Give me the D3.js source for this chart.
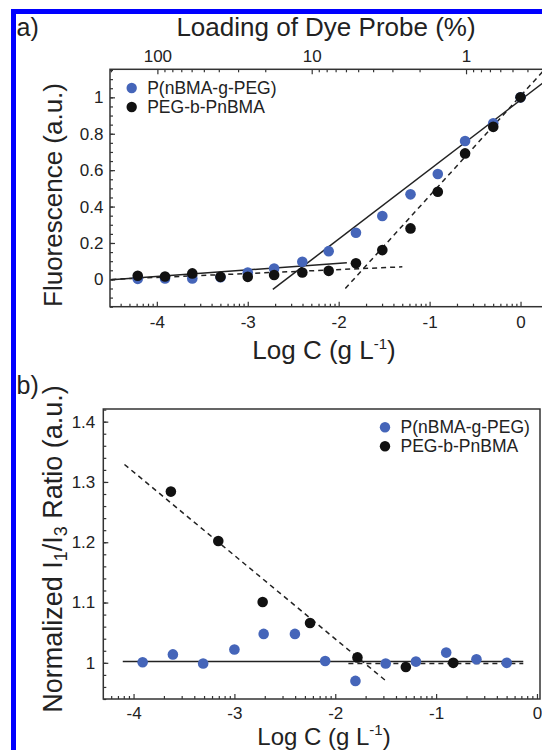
<!DOCTYPE html>
<html>
<head>
<meta charset="utf-8">
<script src="https://cdn.jsdelivr.net/npm/d3@7.9.0/dist/d3.min.js"></script>
<style>
  body { margin: 0; background: #fff; }
  svg { display: block; font-family: "Liberation Sans", Arial, Helvetica, sans-serif; }
</style>
</head>
<body>
<svg id="chart" width="542" height="750"></svg>
<script>
// Panel a: fluorescence of the dye probe vs log concentration
const logCA = [0, -0.30, -0.61, -0.91, -1.21, -1.52, -1.81, -2.11, -2.40, -2.71, -3.00, -3.30, -3.61, -3.91, -4.21];
const fluorGraft = [1.0, 0.857, 0.76, 0.579, 0.467, 0.348, 0.256, 0.155, 0.097, 0.060, 0.038, 0.012, 0.005, 0.005, 0.003];
const fluorBlock = [1.0, 0.838, 0.692, 0.481, 0.28, 0.161, 0.088, 0.047, 0.038, 0.024, 0.014, 0.014, 0.033, 0.016, 0.020];

// Panel b: normalized I1/I3 ratio vs log concentration
const logCGraftB = [-3.91, -3.61, -3.31, -3.00, -2.71, -2.40, -2.10, -1.80, -1.50, -1.20, -0.90, -0.60, -0.30];
const ratioGraft = [1.001, 1.014, 0.999, 1.022, 1.048, 1.048, 1.003, 0.970, 0.999, 1.002, 1.017, 1.006, 1.000];
const logCBlockB = [-3.63, -3.16, -2.72, -2.25, -1.78, -1.30, -0.83];
const ratioBlock = [1.284, 1.202, 1.101, 1.066, 1.009, 0.993, 1.000];

// Fitted lines, as end points (solid = graft, dashed = block)
const fitsA = [
  { x: [-4.5, -1.91], y: [-0.002, 0.091], dashed: false },
  { x: [-4.5, -1.30], y: [0.0, 0.069], dashed: true },
  { x: [-2.724, 0.5], y: [-0.055, 1.176], dashed: false },
  { x: [-1.927, 0.5], y: [-0.05, 1.282], dashed: true },
];
const fitsB = [
  { x: [-4.107, -0.136], y: [1.002, 1.002], dashed: false },
  { x: [-1.87, -0.136], y: [0.999, 0.999], dashed: true },
  { x: [-4.09, -1.497], y: [1.329, 0.970], dashed: true },
];

const seriesNames = ["P(nBMA-g-PEG)", "PEG-b-PnBMA"];
const seriesColors = ["#4565b9", "#111111"];

const xTicks = [-4, -3, -2, -1, 0];
const yTicksA = [0, 0.2, 0.4, 0.6, 0.8, 1];
const yTicksB = [1, 1.1, 1.2, 1.3, 1.4];
const loadingTicks = [100, 10, 1];

const svg = d3.select("#chart");
const ink = "#222";

// blue border of the figure
svg.append("rect")
  .attr("x", 13.5).attr("y", 11.5)
  .attr("width", 600).attr("height", 800)
  .attr("fill", "none").attr("stroke", "#0000ff").attr("stroke-width", 5);

// minor log ticks: positions log10(k*10^n) from a log scale
function logMinor(domain) {
  const s = d3.scaleLog().domain(domain.map((v) => Math.pow(10, v)));
  return s.ticks().map(Math.log10).filter((v) => Math.abs(v - Math.round(v)) > 1e-6);
}

function styleAxis(g) {
  g.select(".domain").remove();
  g.attr("font-size", 17).attr("font-family", null);
  g.selectAll("line").attr("stroke", "#333").attr("stroke-width", 1.2);
  g.selectAll("text").attr("fill", ink);
}

function drawPanel(p) {
  const { box, x, y } = p;
  const g = svg.append("g");

  const clipId = "clip-" + p.name;
  g.append("clipPath").attr("id", clipId)
    .append("rect")
    .attr("x", box.left).attr("y", box.top)
    .attr("width", box.right - box.left).attr("height", box.bottom - box.top);

  // bottom axis
  g.append("g").attr("transform", `translate(0,${box.bottom})`)
    .call(d3.axisBottom(x).tickValues(logMinor(x.domain())).tickSize(-3).tickFormat(""))
    .call(styleAxis);
  g.append("g").attr("transform", `translate(0,${box.bottom})`)
    .call(d3.axisBottom(x).tickValues(xTicks).tickSize(-5).tickPadding(p.xPad).tickFormat((d) => String(d)))
    .call(styleAxis);

  // left axis
  g.append("g").attr("transform", `translate(${box.left},0)`)
    .call(d3.axisLeft(y).tickValues(p.yMinor).tickSize(-3).tickFormat(""))
    .call(styleAxis);
  g.append("g").attr("transform", `translate(${box.left},0)`)
    .call(d3.axisLeft(y).tickValues(p.yTicks).tickSize(-5).tickPadding(p.yPad).tickFormat(d3.format("~g")))
    .call(styleAxis);

  // frame
  g.append("rect")
    .attr("x", box.left).attr("y", box.top)
    .attr("width", box.right - box.left).attr("height", box.bottom - box.top)
    .attr("fill", "none").attr("stroke", "#333").attr("stroke-width", 1.5);

  // fit lines
  const line = d3.line().x((d) => x(d[0])).y((d) => y(d[1]));
  g.append("g").attr("clip-path", `url(#${clipId})`)
    .selectAll("path")
    .data(p.fits)
    .join("path")
    .attr("d", (f) => line(f.x.map((v, i) => [v, f.y[i]])))
    .attr("fill", "none")
    .attr("stroke", ink)
    .attr("stroke-width", 1.5)
    .attr("stroke-dasharray", (f) => (f.dashed ? "5,4" : null));

  // points: graft (blue) first, block (black) on top
  p.series.forEach((s, i) => {
    g.append("g")
      .selectAll("circle")
      .data(s.x.map((v, j) => [v, s.y[j]]))
      .join("circle")
      .attr("cx", (d) => x(d[0]))
      .attr("cy", (d) => y(d[1]))
      .attr("r", 5.3)
      .attr("fill", seriesColors[i]);
  });

  // legend
  const leg = g.append("g").attr("transform", `translate(${p.legend[0]},${p.legend[1]})`);
  seriesNames.forEach((name, i) => {
    leg.append("circle").attr("cx", 0).attr("cy", i * 19).attr("r", 5.2).attr("fill", seriesColors[i]);
    leg.append("text").attr("x", 15.5).attr("y", i * 19).attr("dy", "0.35em")
      .attr("font-size", 17.5).attr("fill", ink).text(name);
  });

  // x title with superscript
  const xt = g.append("text")
    .attr("x", 324).attr("y", p.xTitleY)
    .attr("text-anchor", "middle").attr("font-size", p.xTitleSize).attr("fill", ink);
  xt.append("tspan").text("Log C (g L");
  xt.append("tspan").attr("font-size", 15).attr("dy", -10).text("-1");
  xt.append("tspan").attr("dy", 10).text(")");

  // panel letter
  g.append("text").attr("x", 16.5).attr("y", p.letterY)
    .attr("font-size", 25).attr("fill", ink).text(p.name + ")");

  return g;
}

// ---- panel a ----
const boxA = { left: 110, right: 566, top: 69.3, bottom: 306.7 };
const xA = d3.scaleLinear().domain([-4.515, 0.5]).range([boxA.left, boxA.right]);
const yA = d3.scaleLinear().domain([-0.15, 1.154]).range([boxA.bottom, boxA.top]);

const gA = drawPanel({
  name: "a", box: boxA, x: xA, y: yA,
  yTicks: yTicksA, yMinor: d3.range(-15, 116, 5).map((d) => d / 100),
  xPad: 9.5, yPad: 6.5,
  fits: fitsA,
  series: [{ x: logCA, y: fluorGraft }, { x: logCA, y: fluorBlock }],
  legend: [131.7, 88], xTitleY: 359, xTitleSize: 26, letterY: 36,
});

// top axis: loading of dye probe (log, decreasing to the right)
const loadScale = d3.scaleLog().domain([202.8, 0.225]).range([boxA.left, boxA.right]);
const loadMinor = loadScale.ticks().filter((v) => Math.abs(Math.log10(v) - Math.round(Math.log10(v))) > 1e-6);
gA.append("g").attr("transform", `translate(0,${boxA.top})`)
  .call(d3.axisTop(loadScale).tickValues(loadMinor).tickSize(-3).tickFormat(""))
  .call(styleAxis);
gA.append("g").attr("transform", `translate(0,${boxA.top})`)
  .call(d3.axisTop(loadScale).tickValues(loadingTicks).tickSize(-5).tickPadding(7.6).tickFormat((d) => String(d)))
  .call(styleAxis);

gA.append("text").attr("x", 326).attr("y", 36)
  .attr("text-anchor", "middle").attr("font-size", 26).attr("fill", ink)
  .text("Loading of Dye Probe (%)");

gA.append("text")
  .attr("transform", "translate(62,195) rotate(-90)")
  .attr("text-anchor", "middle").attr("font-size", 26).attr("fill", ink)
  .text("Fluorescence (a.u.)");

// ---- panel b ----
const boxB = { left: 103.3, right: 540, top: 409, bottom: 699 };
const xB = d3.scaleLinear().domain([-4.3, 0.03]).range([boxB.left, boxB.right]);
const yB = d3.scaleLinear().domain([0.94, 1.421]).range([boxB.bottom, boxB.top]);

const gB = drawPanel({
  name: "b", box: boxB, x: xB, y: yB,
  yTicks: yTicksB, yMinor: d3.range(94, 143, 2).map((d) => d / 100),
  xPad: 7.5, yPad: 8,
  fits: fitsB,
  series: [{ x: logCGraftB, y: ratioGraft }, { x: logCBlockB, y: ratioBlock }],
  legend: [385, 427.3], xTitleY: 744.5, xTitleSize: 24, letterY: 394,
});

const yt = gB.append("text")
  .attr("transform", "translate(62,549) rotate(-90)")
  .attr("text-anchor", "middle").attr("font-size", 27).attr("fill", ink);
yt.append("tspan").text("Normalized I");
yt.append("tspan").attr("font-size", 18).attr("dy", 5).text("1");
yt.append("tspan").attr("dy", -5).text("/I");
yt.append("tspan").attr("font-size", 18).attr("dy", 5).text("3");
yt.append("tspan").attr("dy", -5).text(" Ratio (a.u.)");
</script>
</body>
</html>
